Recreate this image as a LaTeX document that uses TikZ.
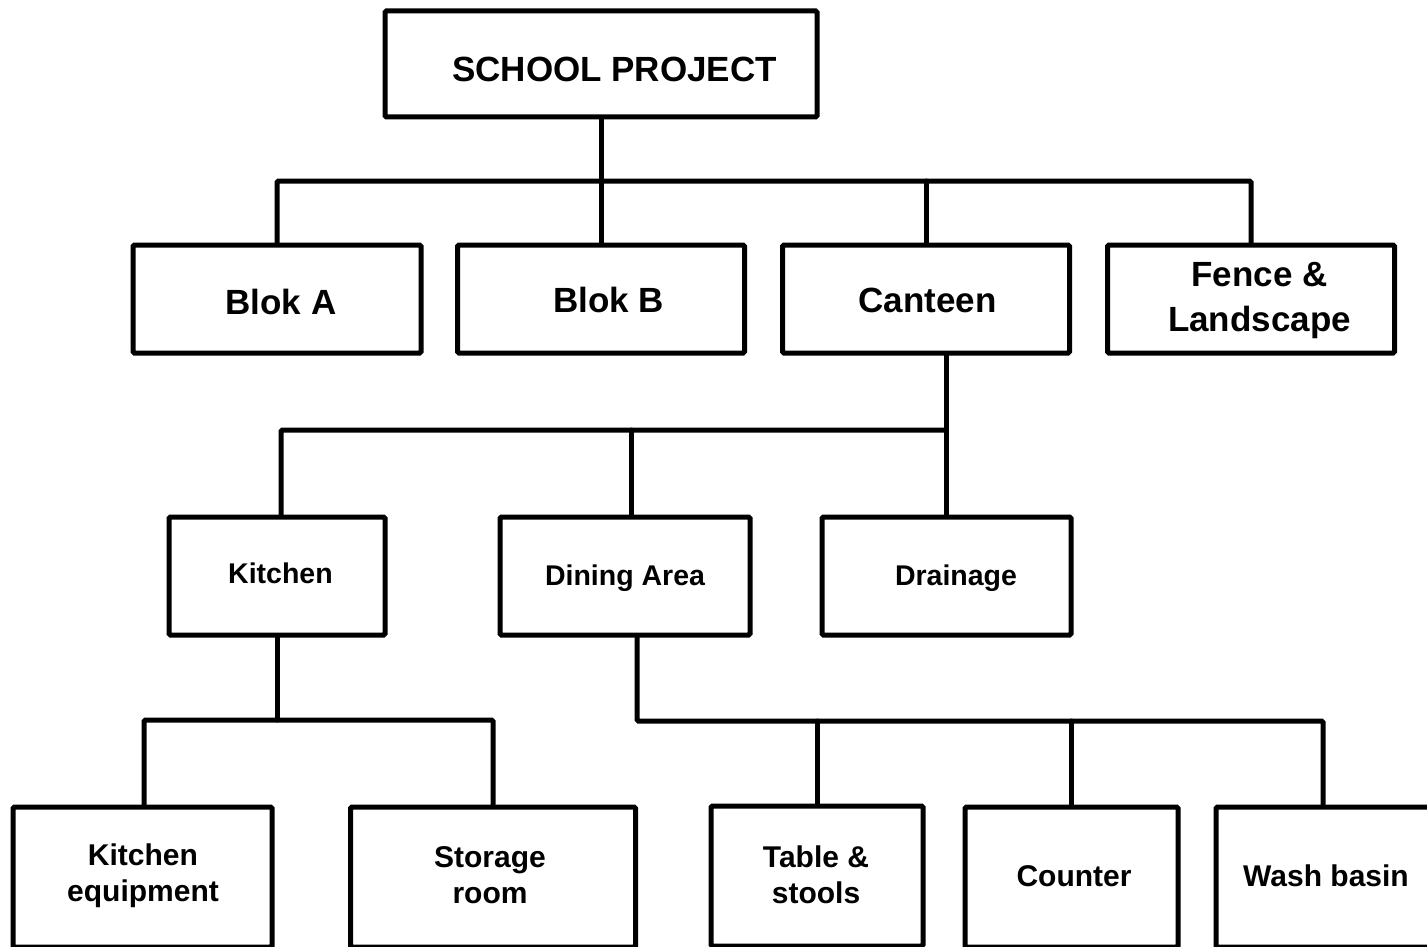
\documentclass[tikz,border=0pt]{standalone}
\usepackage{fontspec}
\setmainfont{Liberation Sans}
\begin{document}
\begin{tikzpicture}[x=1pt,y=-1pt,
  box/.style={draw=black, line width=5pt, rounded corners=1.5pt, fill=white, inner sep=0pt},
  wire/.style={draw=black, line width=5pt, rounded corners=1.5pt, line cap=round},
  bigtxt/.style={font=\bfseries\fontsize{35}{45}\selectfont, align=center, inner sep=0pt},
  midtxt/.style={font=\bfseries\fontsize{28.5}{36}\selectfont, align=center, inner sep=0pt},
  lowtxt/.style={font=\bfseries\fontsize{30}{36}\selectfont, align=center, inner sep=0pt}]
\useasboundingbox (0,0) rectangle (1427,947);
\clip (0,0) rectangle (1427,947);

% bus rails
\coordinate (railA) at (601,181);
\coordinate (railB) at (945,430);
\coordinate (railC) at (277,720);
\coordinate (railD) at (637,721);

% level 0
\node[box, minimum width=432pt, minimum height=106pt] (top) at (601,64) {};
% level 1
\node[box, minimum width=288pt, minimum height=108pt] (blokA) at (277,299) {};
\node[box, minimum width=287pt, minimum height=108pt] (blokB) at (601,299) {};
\node[box, minimum width=287pt, minimum height=108pt] (canteen) at (926,299) {};
\node[box, minimum width=287pt, minimum height=108pt] (fence) at (1251,299) {};
% level 2
\node[box, minimum width=216pt, minimum height=118pt] (kitchen) at (277,576) {};
\node[box, minimum width=250pt, minimum height=118pt] (dining) at (625,576) {};
\node[box, minimum width=249pt, minimum height=118pt] (drainage) at (946.5,576) {};
% level 3
\node[box, minimum width=259pt, minimum height=140pt] (kequip) at (142.5,877) {};
\node[box, minimum width=285pt, minimum height=140pt] (storage) at (493,877) {};
\node[box, minimum width=212pt, minimum height=140pt] (table) at (817,876) {};
\node[box, minimum width=213pt, minimum height=140pt] (counter) at (1071.5,877) {};
\node[box, minimum width=214pt, minimum height=140pt] (wash) at (1323,877) {};

% labels
\node[bigtxt] (topT) at (614.5,69.5) {SCHOOL PROJECT};
\node[bigtxt] (blokAT) at (281,302) {Blok A};
\node[bigtxt] (blokBT) at (608.5,300) {Blok B};
\node[bigtxt] (canteenT) at (927.5,300) {Canteen};
\node[bigtxt] (fenceT) at (1259.5,301) {Fence \&\\Landscape};
\node[midtxt] (kitchenT) at (280.5,573) {Kitchen};
\node[midtxt] (diningT) at (625,578) {Dining Area};
\node[midtxt] (drainageT) at (956,578) {Drainage};
\node[lowtxt] (kequipT) at (143,876) {Kitchen\\equipment};
\node[lowtxt] (storageT) at (490,875) {Storage\\room};
\node[lowtxt] (tableT) at (816,875) {Table \&\\stools};
\node[lowtxt] (counterT) at (1074,876) {Counter};
\node[lowtxt] (washT) at (1326,876) {Wash basin};

% level 0 -> level 1
\draw[wire] (top.south) -- (railA);
\draw[wire] (blokA.north) |- (fence.north |- railA) -- (fence.north);
\draw[wire] (blokB.north) -- (blokB.north |- railA);
\draw[wire] (canteen.north) -- (canteen.north |- railA);

% canteen -> level 2
\draw[wire] (drainage.north) -- (drainage.north |- canteen.south);
\draw[wire] ([xshift=4pt]kitchen.north) |- (railB);
\draw[wire] ([xshift=6pt]dining.north) -- ([xshift=6pt]dining.north |- railB);

% kitchen -> level 3
\draw[wire] (kitchen.south) -- (railC);
\draw[wire] ([xshift=1.5pt]kequip.north) |- (storage.north |- railC) -- (storage.north);

% dining area -> level 3
\draw[wire] ([xshift=12pt]dining.south) |- (wash.north |- railD) -- (wash.north);
\draw[wire] (table.north) -- (table.north |- railD);
\draw[wire] (counter.north) -- (counter.north |- railD);
\end{tikzpicture}
\end{document}
